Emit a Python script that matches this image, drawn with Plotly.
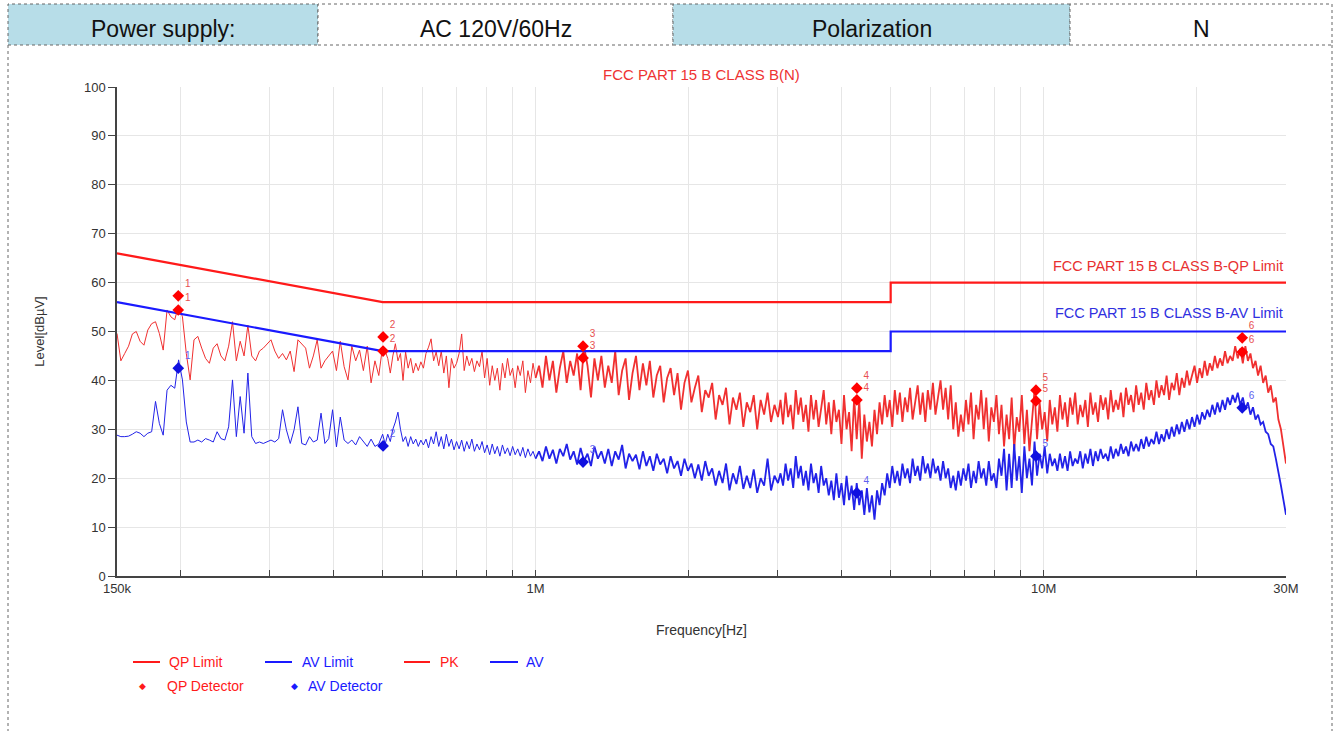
import numpy as np
import plotly.graph_objects as go

# ---------------- data (frequencies in MHz, levels in dBuV) ----------------
# sweep segments: (start MHz, end MHz)
SEG_EDGES = [(0.15, 0.5), (0.5, 1.0), (1.0, 3.0), (3.0, 30.0)]

PK_A = [49.6, 44, 45.5, 47, 49.5, 50, 48, 47.2, 50.3, 51.6,
        52, 49.6, 46.2, 54.4, 53, 52.4, 55.4, 53, 45.5, 40.1,
        48.3, 49, 46.6, 44.5, 43.5, 46.6, 47.5, 45, 44, 47,
        52, 44, 48, 45, 51.3, 45, 44, 46, 46.6, 47.5,
        48.3, 46, 44.5, 45.5, 44.2, 46, 41.8, 48.3, 47.5, 46.6,
        42.5, 45, 48.3, 42.5, 44, 45, 46, 42, 48, 42.8,
        40.1, 47, 44, 46.2, 42, 47, 39.5, 44, 41, 47]
AV_A = [28.8, 28.5, 28.5, 28.6, 29, 29.5, 29.2, 28.5, 29.2, 29.5,
        35.7, 31.2, 28.8, 38, 39, 38.4, 44.2, 40.1, 31.5, 27.4,
        27.4, 27.8, 27.4, 28.1, 27.8, 27.4, 29.5, 28.1, 27.8, 30.5,
        40.1, 28.5, 36.7, 29.2, 41.5, 28.5, 27.1, 27.4, 27.1, 27.4,
        27.8, 27.4, 28.1, 34, 29.9, 27.1, 29.9, 34.6, 27.1, 26.8,
        28.5, 27.4, 27.8, 33.3, 27.1, 28.1, 34, 26.4, 32.5, 27.8,
        27.1, 27.8, 26.8, 28.5, 27.5, 26.5, 28, 26.5, 27, 29]

PK_B = [46, 44.5, 41.5, 45, 47.5, 44, 45.5, 40, 45.8, 42.5,
        44.5, 41.5, 43.5, 42, 43.8, 42.5, 45.5, 46.8, 48.5, 44,
        45.8, 43, 46, 41.5, 45, 38.5, 44.5, 42.5, 43.5, 45.5,
        49.5, 42, 45, 43, 44.5, 41.8, 44, 42.8, 46, 40.5,
        44.5, 39, 43, 40, 42.5, 38, 43.5, 40.5, 44.5, 41,
        42.5, 38.5, 43, 41, 44, 37.5, 42, 39.5, 43.5, 40.5]
AV_B = [27, 29, 27.5, 30, 31.5, 33.5, 30, 27.5, 28.5, 26.5,
        28.5, 27, 28, 26.5, 27.8, 26.8, 28, 26.2, 28.5, 27,
        29.5, 26.5, 28.5, 26, 29, 26.5, 28, 25.8, 27.5, 26,
        27.8, 25.5, 27.5, 26, 28, 25.5, 27, 25.8, 27.5, 25.2,
        26.8, 24.8, 27, 25, 26.5, 24.5, 26.8, 25, 26.2, 24.6,
        26.5, 24.8, 26, 24.5, 26.3, 24.2, 26, 24.5, 25.5, 24]

PK_C1 = [43, 38.5, 45, 40, 44, 37.5, 42.5, 46, 39.5, 44,
         41, 45.5, 38, 47, 43, 36.5, 44.5, 40, 45, 38.5,
         43, 39.5, 46, 37, 42, 44.5, 36, 41.5, 45, 38,
         43.5, 39, 44, 36.5, 41, 43, 35.5, 40.5, 42.5, 37,
         41.5, 34, 39.5, 42, 35.5, 38.5, 41, 33.5, 38, 36.5,
         39.5, 32, 37, 35, 38.5, 31, 36.5, 34, 37.5, 30.5,
         35.5, 33.5, 37, 30, 36, 33, 37.5, 31.5, 35, 32.5]
AV_C1 = [25.5, 23.5, 26.5, 24, 25.8, 23, 26, 24.5, 27, 23.8,
         25.5, 22.8, 26.2, 23.5, 25, 22.5, 26.5, 24, 25.5, 23,
         26, 22.5, 25.5, 23.8, 26.8, 22, 25, 23.5, 24.8, 21.8,
         25.5, 22.5, 24.5, 21.5, 25, 22.8, 24, 21, 24.5, 22,
         23.5, 20.5, 24, 21.5, 23, 20, 22.8, 19.5, 23.5, 20.5,
         22, 18.5, 21.5, 19, 23, 17.5, 21, 18.8, 22.5, 17.8,
         20.5, 18, 21.8, 17, 20, 18.5, 24, 17.5, 20.5, 19]

PK_C2 = [36, 31, 37.5, 32.5, 35, 30, 38, 33, 36.5, 31.5,
         35, 29.5, 37, 32, 36, 30.5, 34.5, 38, 31, 35.5,
         29, 36, 31.5, 34, 27, 37, 30, 33.5, 25.5, 36.5,
         28, 36, 24, 33, 27.5, 31.5, 26.5, 34, 29, 35.5,
         31, 37, 32.5, 36, 30.5, 38, 33, 37.5, 31.5, 36.5,
         33.5, 38.5, 32, 36, 39, 33, 37.5, 31.5, 38, 34,
         39.5, 33, 37, 40, 34, 38.5, 32, 39, 30, 35.5,
         28.5, 33, 29.5, 36, 31, 37.5, 28, 35, 32, 38,
         30, 36.5, 27.5, 34.5, 31.5, 37, 29, 35, 26.5, 33,
         28, 36.5, 26, 32.5, 29.5, 37, 27, 34, 25.5, 31.5,
         38, 28, 35.5, 30, 33.5, 27.5, 36, 31, 34.5, 29.5,
         37, 32, 35.5, 30.5, 36.5, 33, 37.5, 31, 35, 32.5,
         36, 30.5, 37.5, 33, 35.5, 31.5, 37, 34, 36.5, 32,
         38, 33.5, 36, 34, 37.5, 32.5, 38.5, 35, 37, 33.5,
         39, 35, 37.5, 34, 39.5, 36, 38, 35, 40, 36.5,
         39, 37, 41, 36, 39.5, 38, 41.5, 37, 40.5, 38.5,
         42, 39, 41, 43, 39.5, 42.5, 40.5, 44, 41, 43.5,
         42, 45, 42.5, 44.5, 43, 46, 43.5, 45, 44, 47,
         44.5, 46.5, 43.5, 47, 44, 45.5, 42.5, 44, 41, 43,
         39.5, 41, 37.5, 39, 35.5, 36.5, 32, 30, 26.5, 23]
AV_C2 = [21, 18.5, 23, 19.5, 22, 18, 24.5, 20, 22.5, 18.5,
         21.5, 17.5, 23, 19, 21, 17, 22.5, 18.5, 20, 16.5,
         19.5, 15.5, 21, 16, 19, 14.5, 20.5, 15.5, 18.5, 13.5,
         19, 14.5, 17.5, 12.5, 18, 13, 16.5, 11.5, 17.5, 14.5,
         19, 16.5, 21, 18, 22.5, 19, 21.5, 18.5, 23, 20,
         22, 19, 24, 20.5, 22.5, 19.5, 24.5, 21, 23, 20,
         24, 21, 22.5, 19.5, 23.5, 20, 22, 18, 20.5, 17.5,
         21.5, 18.5, 22, 19.5, 23, 18, 21.5, 19, 23.5, 20,
         22, 18.5, 23.5, 19.5, 21, 18, 24, 20.5, 26, 17.5,
         25, 18, 27, 19.5, 24.5, 17, 26.5, 20, 24, 18.5,
         27.5, 20.5, 25, 22, 26.5, 21, 25, 22.5, 24, 21.5,
         25, 22, 24.5, 21.5, 25.5, 22.5, 24, 23, 25.5, 22,
         25, 23, 26, 22.5, 25.5, 23.5, 26, 24, 25, 23.5,
         26.5, 24, 26, 24.5, 27, 25, 26.5, 24.5, 27.5, 25.5,
         27, 25.5, 28, 26, 28.5, 26.5, 28, 27, 29.5, 27,
         29, 27.5, 30, 28, 30.5, 28.5, 31, 29, 31.5, 29.5,
         32, 30, 32.5, 30.5, 33, 31, 33.5, 32, 34, 32.5,
         35, 33, 35.5, 33.5, 36, 34, 36.5, 35, 37, 35.5,
         37.5, 35, 36.5, 34, 35.5, 33, 34.5, 32, 33, 31,
         31.5, 29.5, 29, 27, 26.5, 24, 21.5, 18.5, 15.5, 12.5]

# limits
LIMIT_F = [0.15, 0.5, 5.0, 5.0, 30.0]
QP_LIMIT = [66, 56, 56, 60, 60]
AV_LIMIT = [56, 46, 46, 50, 50]

# final detector readings
DET_F = [0.198, 0.501, 1.24, 4.29, 9.66, 24.6]
DET_LABELS = ["1", "2", "3", "4", "5", "6"]
QP_READ_1 = [57.3, 48.9, 47.0, 38.4, 38.0, 48.7]
QP_READ_2 = [54.4, 46.0, 44.6, 36.0, 35.8, 45.8]
AV_READ = [42.5, 26.6, 23.3, 17.0, 24.5, 34.4]

# x-axis ticks
TICK_VALS = [0.15, 0.2, 0.3, 0.4, 0.5, 0.6, 0.7, 0.8, 0.9, 1, 2, 3, 4, 5, 6, 7, 8, 9, 10, 20, 30]
TICK_TEXT = ["150k", "", "", "", "", "", "", "", "", "1M", "", "", "", "", "", "", "", "", "10M", "", "30M"]

HEADER = ["Power supply:", "AC 120V/60Hz", "Polarization", "N"]


def sweep(segments, first_seg):
    freqs, levels = [], []
    for k, lv in enumerate(segments):
        a, b = SEG_EDGES[first_seg + k]
        n = len(lv)
        fr = np.geomspace(a, b, n) if first_seg + k == 0 else np.geomspace(a, b, n + 1)[1:]
        freqs.extend(fr.tolist())
        levels.extend(lv)
    return freqs, levels


# low part (sparse sweep) and high part (dense sweep) of the same traces
pk_lo_f, pk_lo_v = sweep([PK_A, PK_B], 0)
av_lo_f, av_lo_v = sweep([AV_A, AV_B], 0)
pk_hi_f, pk_hi_v = sweep([PK_C1, PK_C2], 2)
av_hi_f, av_hi_v = sweep([AV_C1, AV_C2], 2)
# join continuity
pk_hi_f = [pk_lo_f[-1]] + pk_hi_f
pk_hi_v = [pk_lo_v[-1]] + pk_hi_v
av_hi_f = [av_lo_f[-1]] + av_hi_f
av_hi_v = [av_lo_v[-1]] + av_hi_v

# ---------------- layout geometry ----------------
W, H = 1340, 731
L, R, T, B = 117, 54, 87, 155
PW, PH = W - L - R, H - T - B


def px(x):
    return (x - L) / PW


def py(y):
    return (H - B - y) / PH


FONT = "Liberation Sans Narrow, Arial Narrow, Liberation Sans, Arial, sans-serif"
RED = "#ff1a1a"
BLUE = "#1a1aff"
PK_COL = "#f03030"
AV_COL = "#2222e8"

fig = go.Figure()
fig.add_trace(go.Scatter(x=pk_lo_f, y=pk_lo_v, mode="lines", name="PK",
                         line=dict(color=PK_COL, width=1), showlegend=False))
fig.add_trace(go.Scatter(x=pk_hi_f, y=pk_hi_v, mode="lines", name="PK",
                         line=dict(color=PK_COL, width=1.8), showlegend=False))
fig.add_trace(go.Scatter(x=av_lo_f, y=av_lo_v, mode="lines", name="AV",
                         line=dict(color=AV_COL, width=1), showlegend=False))
fig.add_trace(go.Scatter(x=av_hi_f, y=av_hi_v, mode="lines", name="AV",
                         line=dict(color=AV_COL, width=1.8), showlegend=False))
fig.add_trace(go.Scatter(x=LIMIT_F, y=QP_LIMIT, mode="lines", name="QP Limit",
                         line=dict(color=RED, width=2.2), showlegend=False))
fig.add_trace(go.Scatter(x=LIMIT_F, y=AV_LIMIT, mode="lines", name="AV Limit",
                         line=dict(color=BLUE, width=2.2), showlegend=False))
fig.add_trace(go.Scatter(x=DET_F + DET_F, y=QP_READ_1 + QP_READ_2, mode="markers+text",
                         name="QP Detector", text=DET_LABELS + DET_LABELS,
                         textposition="top right",
                         textfont=dict(family=FONT, size=10, color="#e85050"),
                         marker=dict(symbol="diamond", size=9, color="#ff0000"),
                         showlegend=False))
fig.add_trace(go.Scatter(x=DET_F, y=AV_READ, mode="markers+text", name="AV Detector",
                         text=DET_LABELS, textposition="top right",
                         textfont=dict(family=FONT, size=10, color="#6060f0"),
                         marker=dict(symbol="diamond", size=9, color="#1010e0"),
                         showlegend=False))

shapes = []
annotations = []

# header cells
cells = [(8, 318, "#b7dde8"), (318, 673, "#ffffff"), (673, 1070, "#b7dde8"), (1070, 1332, "#ffffff")]
for (x0, x1, col), txt in zip(cells, HEADER):
    shapes.append(dict(type="rect", xref="paper", yref="paper",
                       x0=px(x0), x1=px(x1), y0=py(45), y1=py(4),
                       fillcolor=col, line=dict(color="#666666", width=1, dash="dot"), layer="below"))
    annotations.append(dict(xref="paper", yref="paper", x=px((x0 + x1) / 2), y=py(29),
                            text=txt, showarrow=False, xanchor="center", yanchor="middle",
                            font=dict(family="Liberation Sans, Arial, sans-serif", size=23, color="#111111")))
# outer frame sides
for xx in (8, 1332):
    shapes.append(dict(type="line", xref="paper", yref="paper", x0=px(xx), x1=px(xx),
                       y0=py(45), y1=py(731), line=dict(color="#666666", width=1, dash="dot")))

# chart title
annotations.append(dict(xref="paper", yref="paper", x=px(701), y=py(75), text="FCC PART 15 B CLASS B(N)",
                        showarrow=False, xanchor="center", yanchor="middle",
                        font=dict(family=FONT, size=15, color="#ee3333")))
# limit labels
annotations.append(dict(xref="paper", yref="paper", x=px(1285), y=py(266),
                        text="FCC PART 15 B CLASS B-QP Limit", showarrow=False,
                        xanchor="right", yanchor="middle", font=dict(family=FONT, size=14.5, color="#e83030")))
annotations.append(dict(xref="paper", yref="paper", x=px(1285), y=py(313),
                        text="FCC PART 15 B CLASS B-AV Limit", showarrow=False,
                        xanchor="right", yanchor="middle", font=dict(family=FONT, size=14.5, color="#3030e0")))

# custom legend
leg_lines = [(133, 160, 167, "QP Limit", RED), (265, 292, 300, "AV Limit", BLUE),
             (404, 430, 438, "PK", RED), (490, 518, 524, "AV", BLUE)]
for x0, x1, tx, txt, col in leg_lines:
    shapes.append(dict(type="line", xref="paper", yref="paper", x0=px(x0), x1=px(x1),
                       y0=py(662), y1=py(662), line=dict(color=col, width=2)))
    annotations.append(dict(xref="paper", yref="paper", x=px(tx), y=py(662), text=txt,
                            showarrow=False, xanchor="left", yanchor="middle",
                            font=dict(family=FONT, size=14, color=col)))
leg_marks = [(142, 165, "QP Detector", RED), (294, 306, "AV Detector", BLUE)]
for mx, tx, txt, col in leg_marks:
    annotations.append(dict(xref="paper", yref="paper", x=px(mx), y=py(686), text="\u25c6",
                            showarrow=False, xanchor="center", yanchor="middle",
                            font=dict(family="DejaVu Sans", size=9, color=col)))
    annotations.append(dict(xref="paper", yref="paper", x=px(tx), y=py(686), text=txt,
                            showarrow=False, xanchor="left", yanchor="middle",
                            font=dict(family=FONT, size=14, color=col)))

fig.update_layout(
    width=W, height=H,
    margin=dict(l=L, r=R, t=T, b=B),
    paper_bgcolor="white", plot_bgcolor="white",
    shapes=shapes, annotations=annotations,
    showlegend=False,
    font=dict(family=FONT, size=12, color="#333333"),
    xaxis=dict(type="log", range=[np.log10(0.15), np.log10(30)],
               tickvals=TICK_VALS, ticktext=TICK_TEXT,
               ticks="inside", ticklen=6, tickcolor="#444444",
               showline=True, linecolor="#444444", linewidth=1.5,
               showgrid=True, gridcolor="#e6e6e6", gridwidth=1,
               zeroline=False, tickfont=dict(family=FONT, size=13, color="#333333"),
               title=dict(text="Frequency[Hz]", standoff=30,
                          font=dict(family=FONT, size=14, color="#333333"))),
    yaxis=dict(range=[0, 100], dtick=10, ticks="outside", ticklen=7, tickcolor="#444444",
               showline=True, linecolor="#444444", linewidth=1.5,
               showgrid=True, gridcolor="#e6e6e6", gridwidth=1,
               zeroline=False, tickfont=dict(family=FONT, size=13, color="#333333"),
               title=dict(text="Level[dB\u00b5V]", standoff=36,
                          font=dict(family=FONT, size=13, color="#333333"))),
)

fig.write_html("out.html")
